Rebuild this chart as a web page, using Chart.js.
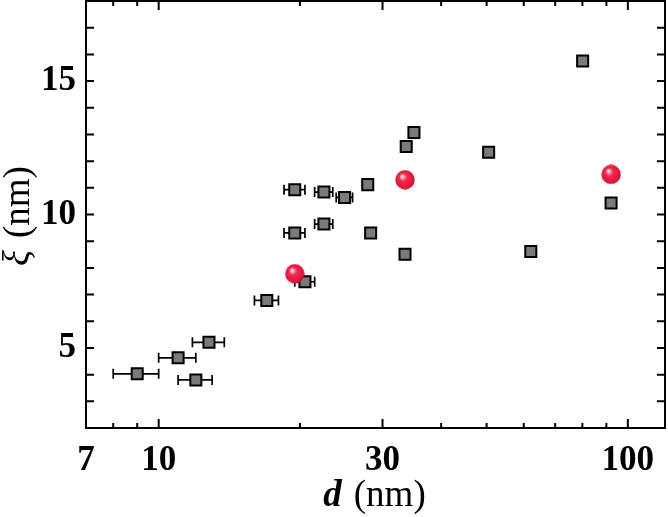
<!DOCTYPE html>
<html>
<head>
<meta charset="utf-8">
<script src="https://cdn.jsdelivr.net/npm/chart.js@4/dist/chart.umd.min.js"></script>
<style>
  html, body { margin: 0; padding: 0; background: #fff; }
  #wrap { width: 668px; height: 517px; }
</style>
</head>
<body>
<div id="wrap"><canvas id="myChart" width="668" height="517"></canvas></div>
<script>
/*** data ***/
// gray squares: diameter d (nm), correlation length xi (nm), half-width of the d error bar
const squareD   = [9.0, 11.0, 12.8, 12.0, 17.0, 19.5, 19.5, 20.5, 22.5, 22.5, 24.9, 27.9, 28.3, 33.5, 33.7, 35.0, 50.5, 62.1, 80.1, 92.1];
const squareXi  = [4.03, 4.63, 5.21, 3.80, 6.78, 10.93, 9.31, 7.48, 10.84, 9.64, 10.64, 11.12, 9.31, 8.51, 12.55, 13.07, 12.33, 8.61, 15.75, 10.43];
const squareErr = [1.0, 1.0, 1.0, 1.0, 1.0, 1.0, 1.0, 1.0, 1.0, 1.0, 1.0, 0, 0, 0, 0, 0, 0, 0, 0, 0];

// red spheres
const sphereD  = [19.5, 33.5, 92.1];
const sphereXi = [7.78, 11.30, 11.50];

// axis ticks
const xLabelTicks = [7, 10, 30, 100];
const xMajorTicks = [10, 30, 100];
const xMinorTicks = [8, 9, 20, 40, 50, 60, 70, 80, 90];
const yLabelTicks = [5, 10, 15];
const yAllTicks   = [3, 4, 5, 6, 7, 8, 9, 10, 11, 12, 13, 14, 15, 16, 17];

const SERIF = "'Liberation Serif', 'Times New Roman', serif";

// sphere marker image
function makeSphere(size) {
  const c = document.createElement("canvas");
  c.width = size; c.height = size;
  const g = c.getContext("2d");
  const r = size / 2;
  const grad = g.createRadialGradient(r * 0.7, r * 0.6, 0, r, r, r);
  grad.addColorStop(0, "#ffffff");
  grad.addColorStop(0.18, "#f7a0b0");
  grad.addColorStop(0.4, "#ee2a4c");
  grad.addColorStop(0.85, "#e0153a");
  grad.addColorStop(1, "#c20f2e");
  g.fillStyle = grad;
  g.beginPath();
  g.arc(r, r, r - 0.3, 0, Math.PI * 2);
  g.fill();
  return c;
}
const sphereImg = makeSphere(20);

const toPoints = (xs, ys) => xs.map((x, i) => ({ x: x, y: ys[i] }));

// horizontal error bars, drawn under the markers
const errorBars = {
  id: "errorBars",
  beforeDatasetsDraw(chart) {
    const ctx = chart.ctx;
    const xs = chart.scales.x, ys = chart.scales.y;
    ctx.save();
    ctx.strokeStyle = "#000";
    ctx.lineWidth = 1.7;
    squareD.forEach((d, i) => {
      const e = squareErr[i];
      if (!e) return;
      const y = ys.getPixelForValue(squareXi[i]);
      const x0 = xs.getPixelForValue(d - e);
      const x1 = xs.getPixelForValue(d + e);
      ctx.beginPath();
      ctx.moveTo(x0, y); ctx.lineTo(x1, y);
      ctx.moveTo(x0, y - 5); ctx.lineTo(x0, y + 5);
      ctx.moveTo(x1, y - 5); ctx.lineTo(x1, y + 5);
      ctx.stroke();
    });
    ctx.restore();
  },
};

// box, inward ticks on four sides, and the two axis titles
const frame = {
  id: "frame",
  afterDraw(chart) {
    const ctx = chart.ctx;
    const a = chart.chartArea;
    const xs = chart.scales.x, ys = chart.scales.y;
    ctx.save();
    ctx.strokeStyle = "#000";
    ctx.lineWidth = 2;
    ctx.strokeRect(a.left, a.top, a.right - a.left, a.bottom - a.top);

    ctx.beginPath();
    const xTick = (v, len) => {
      const px = xs.getPixelForValue(v);
      ctx.moveTo(px, a.bottom); ctx.lineTo(px, a.bottom - len);
      ctx.moveTo(px, a.top); ctx.lineTo(px, a.top + len);
    };
    xMajorTicks.forEach(v => xTick(v, 9));
    xMinorTicks.forEach(v => xTick(v, 5));
    yAllTicks.forEach(v => {
      const py = ys.getPixelForValue(v);
      ctx.moveTo(a.left, py); ctx.lineTo(a.left + 8, py);
      ctx.moveTo(a.right, py); ctx.lineTo(a.right - 8, py);
    });
    ctx.stroke();

    // x title: d (nm)
    ctx.fillStyle = "#000";
    ctx.textBaseline = "alphabetic";
    ctx.textAlign = "left";
    const fD = "italic bold 37px " + SERIF;
    const fN = "37px " + SERIF;
    ctx.font = fD; const wD = ctx.measureText("d").width;
    ctx.font = fN; const wN = ctx.measureText("(nm)").width;
    const gap = 12;
    const cx = (a.left + a.right) / 2 - 1;
    let x0 = cx - (wD + gap + wN) / 2;
    ctx.font = fD; ctx.fillText("d", x0, 506);
    ctx.font = fN; ctx.fillText("(nm)", x0 + wD + gap, 506);

    // y title: xi (nm), rotated
    ctx.save();
    ctx.translate(29, 216);
    ctx.rotate(-Math.PI / 2);
    const fX = "italic 37px " + SERIF;
    ctx.font = fX; const wX = ctx.measureText("\u03be").width;
    const gapY = 12;
    const tot = wX + gapY + wN;
    ctx.font = fX; ctx.fillText("\u03be", -tot / 2, 0);
    ctx.font = fN; ctx.fillText("(nm)", -tot / 2 + wX + gapY, 0);
    ctx.restore();

    ctx.restore();
  },
};

const noPad = (s) => { s.paddingTop = 0; s.paddingBottom = 0; s.paddingLeft = 0; s.paddingRight = 0; };

const ctx = document.getElementById("myChart").getContext("2d");
const chart = new Chart(ctx, {
  type: "scatter",
  data: {
    datasets: [
      {
        label: "spheres",
        data: toPoints(sphereD, sphereXi),
        pointStyle: sphereImg,
        pointRadius: 10,
        order: 0,
      },
      {
        label: "squares",
        data: toPoints(squareD, squareXi),
        pointStyle: "rect",
        pointRadius: 7.8,
        backgroundColor: "#7a7a7a",
        borderColor: "#000",
        borderWidth: 2,
        order: 1,
      },
    ],
  },
  options: {
    responsive: false,
    animation: false,
    events: [],
    layout: { autoPadding: false, padding: { top: 1, right: 3, left: 0, bottom: 0 } },
    plugins: { legend: { display: false }, tooltip: { enabled: false } },
    scales: {
      x: {
        type: "logarithmic",
        min: 7,
        max: 120,
        grid: { display: true, drawOnChartArea: false, drawTicks: true, tickLength: 12, tickColor: "rgba(0,0,0,0)" },
        border: { display: false },
        afterBuildTicks: (s) => { s.ticks = xLabelTicks.map(v => ({ value: v })); },
        afterFit: (s) => { s.height = 89; noPad(s); },
        ticks: {
          autoSkip: false,
          maxRotation: 0,
          padding: 0,
          color: "#000",
          font: { family: SERIF, size: 35, weight: "bold" },
          callback: (v) => String(v),
        },
      },
      y: {
        min: 2,
        max: 18,
        grid: { display: true, drawOnChartArea: false, drawTicks: true, tickLength: 10, tickColor: "rgba(0,0,0,0)" },
        border: { display: false },
        afterBuildTicks: (s) => { s.ticks = yLabelTicks.map(v => ({ value: v })); },
        afterFit: (s) => { s.width = 86; noPad(s); },
        ticks: {
          padding: 0,
          color: "#000",
          font: { family: SERIF, size: 35, weight: "bold" },
          callback: (v) => String(v),
        },
      },
    },
  },
  plugins: [errorBars, frame],
});
</script>
</body>
</html>
